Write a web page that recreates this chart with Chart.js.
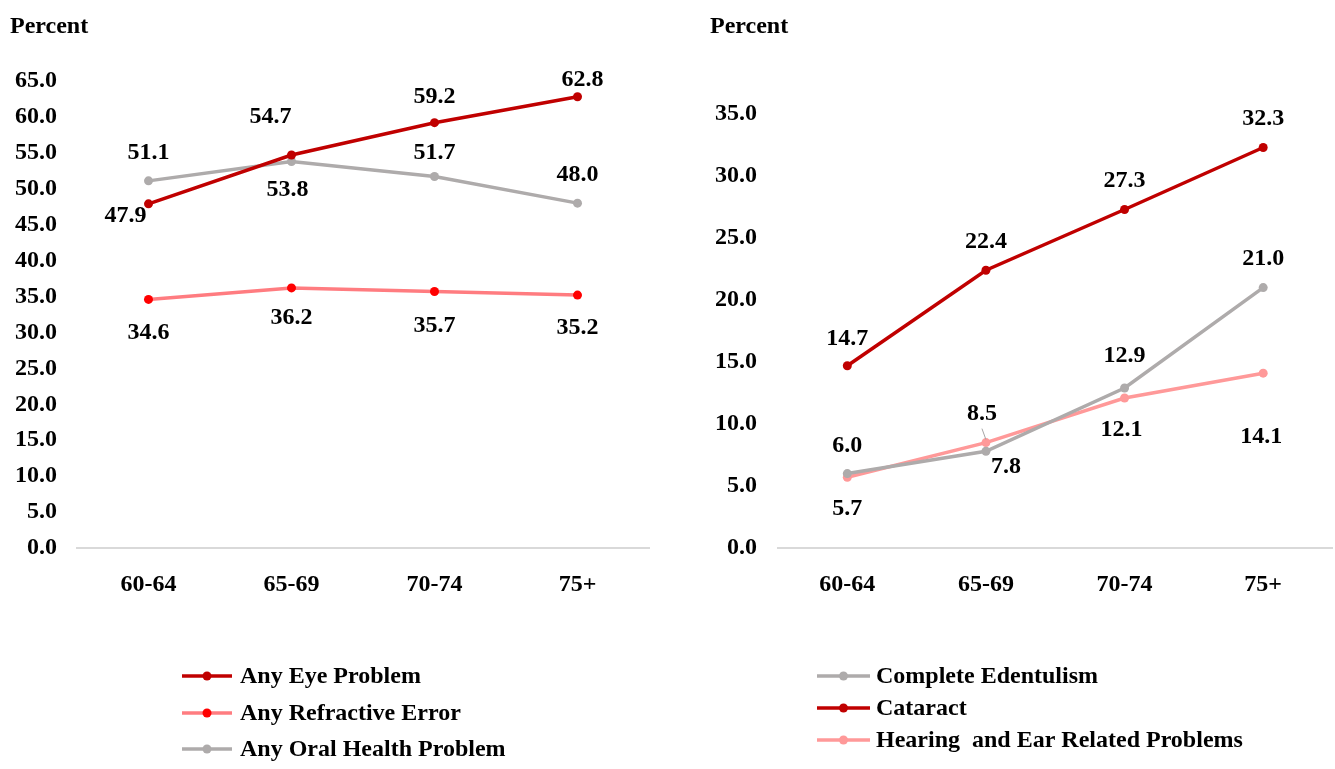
<!DOCTYPE html>
<html>
<head>
<meta charset="utf-8">
<script src="https://cdn.jsdelivr.net/npm/chart.js@4"></script>
<style>
    html, body { margin: 0; padding: 0; background: #fff; overflow: hidden; }
    #wrap { position: relative; width: 1335px; height: 769px; }
    #left-box { position: absolute; left: 0; top: 0; width: 668px; height: 769px; }
    #right-box { position: absolute; left: 668px; top: 0; width: 669px; height: 769px; }
</style>
</head>
<body>
<div id="wrap">
    <div id="left-box"><canvas id="left-chart"></canvas></div>
    <div id="right-box"><canvas id="right-chart"></canvas></div>
</div>
<script>
// Age groups and prevalence (%)
const ageGroups = ['60-64', '65-69', '70-74', '75+'];

const eyeProblem = [47.9, 54.7, 59.2, 62.8];
const refractiveError = [34.6, 36.2, 35.7, 35.2];
const oralHealth = [51.1, 53.8, 51.7, 48.0];

const edentulism = [6.0, 7.8, 12.9, 21.0];
const cataract = [14.7, 22.4, 27.3, 32.3];
const hearingEar = [5.7, 8.5, 12.1, 14.1];

const leftMax = 65;
const rightMax = 35;
const tickStep = 5;

const FONT = 'bold 24px "Liberation Serif", "Times New Roman", serif';
const fontOpts = { family: '"Liberation Serif", "Times New Roman", serif', size: 24, weight: 'bold' };

// number labels next to each point, offsets in px from the point
const valueLabels = {
    id: 'valueLabels',
    afterDatasetsDraw(chart) {
        const ctx = chart.ctx;
        ctx.save();
        ctx.font = FONT;
        ctx.fillStyle = '#000';
        ctx.textAlign = 'center';
        ctx.textBaseline = 'middle';
        chart.data.datasets.forEach((ds, i) => {
            const meta = chart.getDatasetMeta(i);
            meta.data.forEach((pt, j) => {
                const off = ds.labelOffsets[j];
                const x = pt.x + off[0];
                const y = pt.y + off[1];
                if (ds.leaders && ds.leaders[j]) {
                    ctx.strokeStyle = '#A6A6A6';
                    ctx.lineWidth = 1;
                    ctx.beginPath();
                    ctx.moveTo(x, y + 15);
                    ctx.lineTo(pt.x, pt.y - 3);
                    ctx.stroke();
                }
                ctx.fillText(ds.data[j].toFixed(1), x, y);
            });
        });
        ctx.restore();
    }
};

// "Percent" heading and the stacked legend under the plot
const sideDecor = {
    id: 'sideDecor',
    afterDraw(chart, args, opts) {
        const ctx = chart.ctx;
        ctx.save();
        ctx.font = FONT;
        ctx.fillStyle = '#000';
        ctx.textAlign = 'left';
        ctx.textBaseline = 'alphabetic';
        ctx.fillText('Percent', opts.titleX, 33);

        ctx.textBaseline = 'middle';
        opts.order.forEach((idx, row) => {
            const ds = chart.data.datasets[idx];
            const y = opts.rows[row];
            ctx.strokeStyle = ds.borderColor;
            ctx.lineWidth = 3.5;
            ctx.beginPath();
            ctx.moveTo(opts.lineX, y);
            ctx.lineTo(opts.lineX + opts.lineLen, y);
            ctx.stroke();
            ctx.fillStyle = ds.pointBackgroundColor;
            ctx.beginPath();
            ctx.arc(opts.lineX + opts.lineLen / 2, y, 4.5, 0, Math.PI * 2);
            ctx.fill();
            ctx.fillStyle = '#000';
            ctx.fillText(ds.label, opts.textX, y + 1);
        });
        ctx.restore();
    }
};

function lineSet(label, data, color, pointColor, labelOffsets, leaders) {
    return {
        label: label,
        data: data,
        borderColor: color,
        backgroundColor: color,
        pointBackgroundColor: pointColor,
        pointBorderColor: pointColor,
        pointRadius: 4.5,
        pointBorderWidth: 0,
        borderWidth: 3.5,
        tension: 0,
        labelOffsets: labelOffsets,
        leaders: leaders
    };
}

function makeChart(canvasId, datasets, yMax, layout, decor) {
    const ctx = document.getElementById(canvasId).getContext('2d');
    return new Chart(ctx, {
        type: 'line',
        data: { labels: ageGroups, datasets: datasets },
        plugins: [valueLabels, sideDecor],
        options: {
            responsive: true,
            maintainAspectRatio: false,
            animation: false,
            layout: { padding: layout.padding },
            plugins: {
                legend: { display: false },
                tooltip: { enabled: false },
                sideDecor: decor
            },
            scales: {
                x: {
                    offset: true,
                    grid: { drawOnChartArea: false, drawTicks: false },
                    border: { display: true, color: '#D9D9D9', width: 2 },
                    ticks: { color: '#000', font: fontOpts, padding: 22 },
                    afterFit(scale) { scale.height = 60; }
                },
                y: {
                    min: 0,
                    max: yMax,
                    grid: { display: false, drawTicks: false },
                    border: { display: false },
                    ticks: {
                        stepSize: tickStep,
                        color: '#000',
                        font: fontOpts,
                        padding: layout.tickPad,
                        callback: v => v.toFixed(1)
                    },
                    afterFit(scale) { scale.width = layout.axisWidth; }
                }
            }
        }
    });
}

makeChart('left-chart', [
    lineSet('Any Eye Problem', eyeProblem, '#C00000', '#C00000',
        [[-23, 12], [-21, -38], [0, -26], [5, -17]]),
    lineSet('Any Refractive Error', refractiveError, '#FF7C80', '#FF0000',
        [[0, 33], [0, 30], [0, 34], [0, 33]]),
    lineSet('Any Oral Health Problem', oralHealth, '#AEABAB', '#AEABAB',
        [[0, -28], [-4, 28], [0, -24], [0, -28]])
], leftMax, {
    padding: { top: 81, bottom: 161, left: 0, right: 19 },
    axisWidth: 77,
    tickPad: 20
}, { titleX: 10, order: [0, 1, 2], rows: [676, 713, 749], lineX: 182, lineLen: 50, textX: 240 });

makeChart('right-chart', [
    lineSet('Complete Edentulism', edentulism, '#AEABAB', '#AEABAB',
        [[0, -28], [20, 16], [0, -32], [0, -29]]),
    lineSet('Cataract', cataract, '#C00000', '#C00000',
        [[0, -27], [0, -28], [0, -29], [0, -29]]),
    lineSet('Hearing  and Ear Related Problems', hearingEar, '#FF9999', '#FF9999',
        [[0, 31], [-4, -29], [-3, 32], [-2, 64]],
        [false, true, false, false])
], rightMax, {
    padding: { top: 114, bottom: 161, left: 0, right: 0 },
    axisWidth: 110,
    tickPad: 21
}, { titleX: 42, order: [0, 1, 2], rows: [676, 708, 740], lineX: 149, lineLen: 53, textX: 208 });
</script>
</body>
</html>
